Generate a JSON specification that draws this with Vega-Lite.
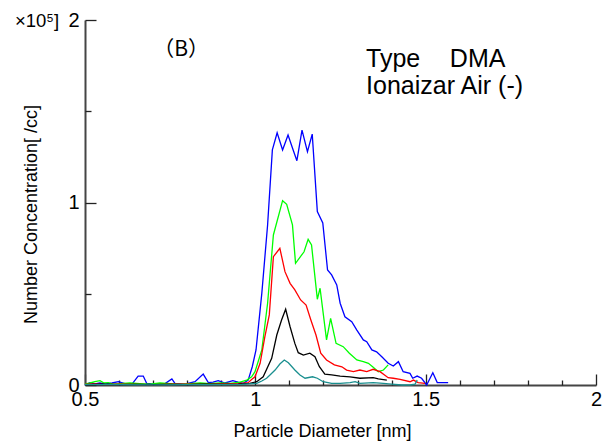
{
  "$schema": "https://vega.github.io/schema/vega-lite/v6.json",
  "width": 511,
  "height": 365,
  "autosize": {"type": "none"},
  "padding": {"left": 85, "top": 20, "right": 17, "bottom": 59},
  "background": "white",
  "config": {"view": {"stroke": null}, "font": "Liberation Sans", "axis": {"grid": false, "labelFont": "Liberation Sans", "titleFont": "Liberation Sans", "labelColor": "black", "titleColor": "black", "tickColor": "#222222", "domainColor": "#454545"}},
  "resolve": {"axis": {"x": "independent", "y": "independent"}},
  "layer": [
    {
      "data": {"values": [
        {"s":"b","d":0.500,"v":0.000},{"s":"b","d":0.515,"v":0.013},{"s":"b","d":0.529,"v":0.006},{"s":"b","d":0.544,"v":0.011},{"s":"b","d":0.559,"v":0.005},{"s":"b","d":0.579,"v":0.011},{"s":"b","d":0.598,"v":0.018},{"s":"b","d":0.617,"v":0.008},{"s":"b","d":0.638,"v":0.005},{"s":"b","d":0.656,"v":0.049},{"s":"b","d":0.671,"v":0.049},{"s":"b","d":0.681,"v":0.009},{"s":"b","d":0.705,"v":0.005},{"s":"b","d":0.735,"v":0.008},{"s":"b","d":0.755,"v":0.033},{"s":"b","d":0.764,"v":0.009},{"s":"b","d":0.794,"v":0.005},{"s":"b","d":0.823,"v":0.018},{"s":"b","d":0.847,"v":0.060},{"s":"b","d":0.862,"v":0.013},{"s":"b","d":0.876,"v":0.016},{"s":"b","d":0.891,"v":0.024},{"s":"b","d":0.911,"v":0.011},{"s":"b","d":0.934,"v":0.024},{"s":"b","d":0.949,"v":0.016},{"s":"b","d":0.965,"v":0.009},{"s":"b","d":0.979,"v":0.027},{"s":"b","d":0.991,"v":0.100},{"s":"b","d":1.002,"v":0.192},{"s":"b","d":1.019,"v":0.502},{"s":"b","d":1.036,"v":0.877},{"s":"b","d":1.050,"v":1.288},{"s":"b","d":1.064,"v":1.382},{"s":"b","d":1.080,"v":1.288},{"s":"b","d":1.096,"v":1.370},{"s":"b","d":1.109,"v":1.299},{"s":"b","d":1.122,"v":1.229},{"s":"b","d":1.137,"v":1.397},{"s":"b","d":1.153,"v":1.278},{"s":"b","d":1.167,"v":1.375},{"s":"b","d":1.182,"v":0.950},{"s":"b","d":1.198,"v":0.888},{"s":"b","d":1.212,"v":0.630},{"s":"b","d":1.224,"v":0.603},{"s":"b","d":1.239,"v":0.548},{"s":"b","d":1.249,"v":0.448},{"s":"b","d":1.263,"v":0.374},{"s":"b","d":1.283,"v":0.347},{"s":"b","d":1.298,"v":0.301},{"s":"b","d":1.317,"v":0.247},{"s":"b","d":1.327,"v":0.237},{"s":"b","d":1.342,"v":0.192},{"s":"b","d":1.356,"v":0.182},{"s":"b","d":1.372,"v":0.153},{"s":"b","d":1.390,"v":0.119},{"s":"b","d":1.405,"v":0.104},{"s":"b","d":1.420,"v":0.128},{"s":"b","d":1.434,"v":0.073},{"s":"b","d":1.454,"v":0.064},{"s":"b","d":1.462,"v":0.037},{"s":"b","d":1.475,"v":0.049},{"s":"b","d":1.488,"v":0.037},{"s":"b","d":1.503,"v":0.000},{"s":"b","d":1.521,"v":0.067},{"s":"b","d":1.534,"v":0.013},{"s":"b","d":1.566,"v":0.013},
        {"s":"g","d":0.500,"v":0.005},{"s":"g","d":0.515,"v":0.011},{"s":"g","d":0.529,"v":0.018},{"s":"g","d":0.544,"v":0.024},{"s":"g","d":0.556,"v":0.011},{"s":"g","d":0.568,"v":0.013},{"s":"g","d":0.582,"v":0.005},{"s":"g","d":0.603,"v":0.008},{"s":"g","d":0.632,"v":0.011},{"s":"g","d":0.661,"v":0.008},{"s":"g","d":0.691,"v":0.005},{"s":"g","d":0.720,"v":0.011},{"s":"g","d":0.749,"v":0.008},{"s":"g","d":0.779,"v":0.005},{"s":"g","d":0.808,"v":0.008},{"s":"g","d":0.838,"v":0.011},{"s":"g","d":0.867,"v":0.008},{"s":"g","d":0.896,"v":0.011},{"s":"g","d":0.926,"v":0.009},{"s":"g","d":0.955,"v":0.016},{"s":"g","d":0.975,"v":0.027},{"s":"g","d":0.989,"v":0.045},{"s":"g","d":0.999,"v":0.073},{"s":"g","d":1.019,"v":0.192},{"s":"g","d":1.036,"v":0.448},{"s":"g","d":1.053,"v":0.822},{"s":"g","d":1.080,"v":1.010},{"s":"g","d":1.092,"v":0.990},{"s":"g","d":1.109,"v":0.877},{"s":"g","d":1.118,"v":0.667},{"s":"g","d":1.143,"v":0.730},{"s":"g","d":1.155,"v":0.798},{"s":"g","d":1.165,"v":0.767},{"s":"g","d":1.182,"v":0.470},{"s":"g","d":1.190,"v":0.530},{"s":"g","d":1.209,"v":0.247},{"s":"g","d":1.221,"v":0.365},{"s":"g","d":1.237,"v":0.228},{"s":"g","d":1.258,"v":0.210},{"s":"g","d":1.276,"v":0.174},{"s":"g","d":1.298,"v":0.137},{"s":"g","d":1.317,"v":0.128},{"s":"g","d":1.332,"v":0.119},{"s":"g","d":1.346,"v":0.097},{"s":"g","d":1.361,"v":0.073},{"s":"g","d":1.376,"v":0.082},{"s":"g","d":1.390,"v":0.110},
        {"s":"r","d":0.500,"v":0.003},{"s":"r","d":0.530,"v":0.006},{"s":"r","d":0.560,"v":0.002},{"s":"r","d":0.600,"v":0.004},{"s":"r","d":0.650,"v":0.003},{"s":"r","d":0.700,"v":0.002},{"s":"r","d":0.750,"v":0.004},{"s":"r","d":0.800,"v":0.005},{"s":"r","d":0.850,"v":0.003},{"s":"r","d":0.900,"v":0.006},{"s":"r","d":0.950,"v":0.008},{"s":"r","d":0.979,"v":0.013},{"s":"r","d":0.989,"v":0.030},{"s":"r","d":0.999,"v":0.045},{"s":"r","d":1.014,"v":0.119},{"s":"r","d":1.028,"v":0.265},{"s":"r","d":1.041,"v":0.384},{"s":"r","d":1.053,"v":0.703},{"s":"r","d":1.072,"v":0.749},{"s":"r","d":1.087,"v":0.621},{"s":"r","d":1.102,"v":0.557},{"s":"r","d":1.116,"v":0.521},{"s":"r","d":1.133,"v":0.466},{"s":"r","d":1.149,"v":0.438},{"s":"r","d":1.163,"v":0.356},{"s":"r","d":1.178,"v":0.274},{"s":"r","d":1.192,"v":0.174},{"s":"r","d":1.209,"v":0.137},{"s":"r","d":1.232,"v":0.110},{"s":"r","d":1.254,"v":0.100},{"s":"r","d":1.268,"v":0.082},{"s":"r","d":1.288,"v":0.073},{"s":"r","d":1.307,"v":0.082},{"s":"r","d":1.327,"v":0.073},{"s":"r","d":1.346,"v":0.086},{"s":"r","d":1.366,"v":0.073},{"s":"r","d":1.390,"v":0.040},{"s":"r","d":1.405,"v":0.037},{"s":"r","d":1.425,"v":0.031},{"s":"r","d":1.454,"v":0.018},{"s":"r","d":1.464,"v":0.027},{"s":"r","d":1.478,"v":0.013},{"s":"r","d":1.498,"v":0.009},
        {"s":"k","d":0.500,"v":0.002},{"s":"k","d":0.550,"v":0.004},{"s":"k","d":0.600,"v":0.002},{"s":"k","d":0.650,"v":0.003},{"s":"k","d":0.700,"v":0.002},{"s":"k","d":0.750,"v":0.003},{"s":"k","d":0.800,"v":0.002},{"s":"k","d":0.850,"v":0.004},{"s":"k","d":0.900,"v":0.003},{"s":"k","d":0.950,"v":0.005},{"s":"k","d":0.984,"v":0.009},{"s":"k","d":1.004,"v":0.018},{"s":"k","d":1.023,"v":0.045},{"s":"k","d":1.048,"v":0.146},{"s":"k","d":1.063,"v":0.274},{"s":"k","d":1.077,"v":0.356},{"s":"k","d":1.089,"v":0.415},{"s":"k","d":1.102,"v":0.319},{"s":"k","d":1.116,"v":0.228},{"s":"k","d":1.126,"v":0.177},{"s":"k","d":1.141,"v":0.164},{"s":"k","d":1.160,"v":0.174},{"s":"k","d":1.175,"v":0.155},{"s":"k","d":1.188,"v":0.100},{"s":"k","d":1.204,"v":0.060},{"s":"k","d":1.224,"v":0.055},{"s":"k","d":1.249,"v":0.049},{"s":"k","d":1.278,"v":0.045},{"s":"k","d":1.307,"v":0.037},{"s":"k","d":1.346,"v":0.040},{"s":"k","d":1.361,"v":0.033},{"s":"k","d":1.386,"v":0.027},
        {"s":"c","d":0.500,"v":0.002},{"s":"c","d":0.600,"v":0.002},{"s":"c","d":0.700,"v":0.001},{"s":"c","d":0.800,"v":0.002},{"s":"c","d":0.900,"v":0.002},{"s":"c","d":0.960,"v":0.003},{"s":"c","d":1.004,"v":0.009},{"s":"c","d":1.019,"v":0.022},{"s":"c","d":1.033,"v":0.037},{"s":"c","d":1.043,"v":0.055},{"s":"c","d":1.058,"v":0.082},{"s":"c","d":1.072,"v":0.115},{"s":"c","d":1.085,"v":0.137},{"s":"c","d":1.097,"v":0.122},{"s":"c","d":1.116,"v":0.082},{"s":"c","d":1.131,"v":0.055},{"s":"c","d":1.146,"v":0.037},{"s":"c","d":1.168,"v":0.045},{"s":"c","d":1.182,"v":0.037},{"s":"c","d":1.199,"v":0.018},{"s":"c","d":1.224,"v":0.009},{"s":"c","d":1.249,"v":0.009},{"s":"c","d":1.278,"v":0.013},{"s":"c","d":1.293,"v":0.018},{"s":"c","d":1.307,"v":0.009},{"s":"c","d":1.346,"v":0.013},{"s":"c","d":1.376,"v":0.009},{"s":"c","d":1.400,"v":0.005},{"s":"c","d":1.430,"v":0.000},{"s":"c","d":1.454,"v":0.000},{"s":"c","d":1.469,"v":0.005},{"s":"c","d":1.475,"v":0.027}
      ]},
      "mark": {"type": "line", "strokeWidth": 1.3, "clip": false},
      "encoding": {
        "x": {"field": "d", "type": "quantitative", "scale": {"domain": [0.5, 2], "nice": false, "zero": false},
              "axis": {"orient": "bottom", "values": [0.5, 1, 1.5, 2], "format": "~g", "ticks": false, "domainWidth": 2, "labelFontSize": 20, "labelPadding": 4, "labelFlush": false, "labelOverlap": false, "title": "Particle Diameter [nm]", "titleFontSize": 18, "titleFontWeight": "normal", "titlePadding": 13, "titleX": 237}},
        "y": {"field": "v", "type": "quantitative", "scale": {"domain": [0, 2], "nice": false, "zero": false},
              "axis": {"orient": "left", "values": [0, 1, 2], "format": "~g", "ticks": false, "domainWidth": 2, "labelFontSize": 20, "labelPadding": 6, "labelFlush": false, "labelOverlap": false, "title": "Number Concentration[ /cc]", "titleFontSize": 18, "titleFontWeight": "normal", "titlePadding": 27, "titleY": 194}},
        "color": {"field": "s", "type": "nominal", "legend": null, "scale": {"domain": ["b", "g", "r", "k", "c"], "range": ["#0000ff", "#00ff00", "#ff0000", "#000000", "#1a8f8f"]}},
        "order": {"field": "d", "type": "quantitative"}
      }
    },
    {
      "data": {"values": [
        {"t": "Type", "d": 1.325, "v": 1.742},
        {"t": "DMA", "d": 1.571, "v": 1.742},
        {"t": "Ionaizar Air (-)", "d": 1.325, "v": 1.595}
      ]},
      "mark": {"type": "text", "align": "left", "baseline": "alphabetic", "fontSize": 25, "font": "Liberation Sans", "color": "black"},
      "encoding": {
        "x": {"field": "d", "type": "quantitative", "scale": {"domain": [0.5, 2], "nice": false, "zero": false},
              "axis": {"orient": "bottom", "values": [0.5, 1, 1.5, 2], "labels": false, "domain": false, "ticks": true, "tickSize": -11, "tickWidth": 1.3, "title": null}},
        "y": {"field": "v", "type": "quantitative", "scale": {"domain": [0, 2], "nice": false, "zero": false},
              "axis": {"orient": "left", "values": [0, 1, 2], "labels": false, "domain": false, "ticks": true, "tickSize": -11, "tickWidth": 1.3, "title": null}},
        "text": {"field": "t", "type": "nominal"}
      }
    },
    {
      "data": {"values": [
        {"t": "（B）", "d": 0.700, "v": 1.803}
      ]},
      "mark": {"type": "text", "align": "left", "baseline": "alphabetic", "fontSize": 21, "font": "Noto Sans CJK JP", "color": "black"},
      "encoding": {
        "x": {"field": "d", "type": "quantitative", "scale": {"domain": [0.5, 2], "nice": false, "zero": false},
              "axis": {"orient": "bottom", "values": [0.6, 0.7, 0.8, 0.9, 1.1, 1.2, 1.3, 1.4, 1.6, 1.7, 1.8, 1.9], "labels": false, "domain": false, "ticks": true, "tickSize": -5, "tickWidth": 1.3, "title": null}},
        "y": {"field": "v", "type": "quantitative", "scale": {"domain": [0, 2], "nice": false, "zero": false},
              "axis": {"orient": "left", "values": [0.5, 1.5], "labels": false, "domain": false, "ticks": true, "tickSize": -6, "tickWidth": 1.3, "title": null}},
        "text": {"field": "t", "type": "nominal"}
      }
    },
    {
      "data": {"values": [
        {"t": "×10⁵]", "d": 0.2945, "v": 1.962}
      ]},
      "mark": {"type": "text", "align": "left", "baseline": "alphabetic", "fontSize": 18.5, "font": "Liberation Sans", "color": "black"},
      "encoding": {
        "x": {"field": "d", "type": "quantitative", "scale": {"domain": [0.5, 2], "nice": false, "zero": false}, "axis": null},
        "y": {"field": "v", "type": "quantitative", "scale": {"domain": [0, 2], "nice": false, "zero": false}, "axis": null},
        "text": {"field": "t", "type": "nominal"}
      }
    }
  ]
}
